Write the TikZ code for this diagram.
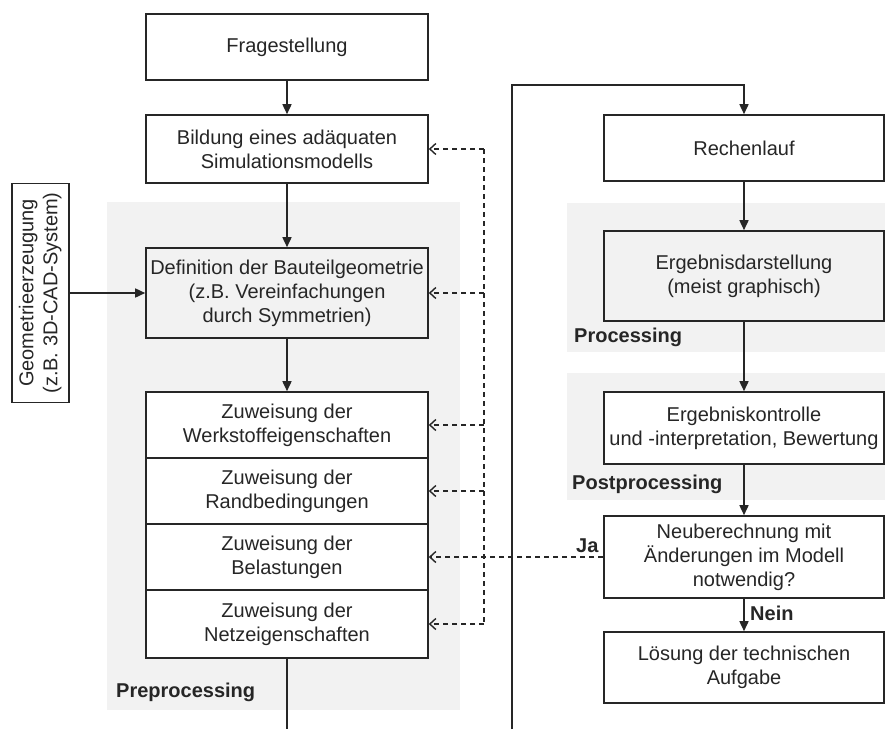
\documentclass[tikz,border=0pt]{standalone}
\usepackage{fontspec}
\usepackage{graphicx}
\setmainfont{Liberation Sans}
\usetikzlibrary{arrows.meta}
\definecolor{ink}{HTML}{262626}
\definecolor{zone}{HTML}{F2F2F2}
\newcommand\diafont{\fontsize{20}{24}\selectfont}
\tikzset{
  box/.style={draw=ink, line width=1.6pt, fill=white, align=center, inner sep=2pt, font=\diafont, text=ink},
  greybox/.style={box, fill=zone},
  lab/.style={font=\diafont\bfseries, inner sep=0pt, text=ink},
  plain/.style={draw=ink, line width=1.6pt},
  arr/.style={plain, -{Triangle[length=10pt,width=9pt]}},
  dline/.style={draw=ink, line width=1.5pt, dash pattern=on 5pt off 4pt},
  fb/.style={dline, -{Straight Barb[length=6pt,width=11pt,line width=1.4pt]}},
}
\begin{document}
\begin{tikzpicture}[x=1pt,y=-1pt]
\useasboundingbox (0,0) rectangle (885,729);

% shaded phase zones
\fill[zone] (107,202) rectangle (460,710);
\fill[zone] (567,203) rectangle (885,352);
\fill[zone] (567,373) rectangle (885,500);

% left column
\node[box, minimum width=282pt, minimum height=66pt] (frage) at (287,47) {Fragestellung};
\node[box, minimum width=282pt, minimum height=68pt] (bild) at (287,149) {Bildung eines adäquaten\\Simulationsmodells};
\node[greybox, minimum width=282pt, minimum height=90pt] (def) at (287,293) {Definition der Bauteilgeometrie\\(z.B. Vereinfachungen\\durch Symmetrien)};
\node[box, minimum width=282pt, minimum height=66pt] (werk) at (287,425) {Zuweisung der\\Werkstoffeigenschaften};
\node[box, minimum width=282pt, minimum height=66pt] (rand) at (287,491) {Zuweisung der\\Randbedingungen};
\node[box, minimum width=282pt, minimum height=66pt] (bel) at (287,557) {Zuweisung der\\Belastungen};
\node[box, minimum width=282pt, minimum height=68pt] (netz) at (287,624) {Zuweisung der\\Netzeigenschaften};

% CAD input
\node[box, minimum width=57pt, minimum height=219pt, inner sep=0pt] (geo) at (40.5,293)
  {\rotatebox{90}{\begin{tabular}{@{}c@{}}Geometrieerzeugung\\(z.B. 3D-CAD-System)\end{tabular}}};

% right column
\node[box, minimum width=280pt, minimum height=66pt] (rech) at (744,148) {Rechenlauf};
\node[greybox, minimum width=280pt, minimum height=90pt] (erg) at (744,276) {Ergebnisdarstellung\\(meist graphisch)};
\node[box, minimum width=280pt, minimum height=72pt] (kontr) at (744,428) {Ergebniskontrolle\\und -interpretation, Bewertung};
\node[box, minimum width=280pt, minimum height=82pt] (neu) at (744,557) {Neuberechnung mit\\Änderungen im Modell\\notwendig?};
\node[box, minimum width=280pt, minimum height=71pt] (loes) at (744,667.5) {Lösung der technischen\\Aufgabe};

% phase labels
\node[lab, anchor=west] (prelab) at (116,692) {Preprocessing};
\node[lab, anchor=west] (proclab) at (574,337) {Processing};
\node[lab, anchor=west] (postlab) at (572,484) {Postprocessing};
\node[lab, anchor=west] (ja) at (576,546) {Ja};
\node[lab, anchor=west] (nein) at (750,613) {Nein};

% main flow
\draw[arr] (frage) -- (bild);
\draw[arr] (bild) -- (def);
\draw[arr] (def) -- (werk);
\draw[arr] (geo.east) -- (def.west);
\coordinate (tail) at (287,729);
\draw[plain] (netz.south) -- (tail);

\coordinate (loopB) at (512,729);
\coordinate (loopT) at (512,85);
\draw[arr] (loopB) -- (loopT) -| (rech.north);
\draw[arr] (rech) -- (erg);
\draw[arr] (erg) -- (kontr);
\draw[arr] (kontr) -- (neu);
\draw[arr] (neu) -- (loes);

% feedback bus
\coordinate (busT) at (484,149);
\coordinate (busB) at (484,624);
\draw[dline] (busT) -- (busB);
\draw[fb] (busT) -- (bild.east);
\draw[fb] (busT |- def.east) -- (def.east);
\draw[fb] (busT |- werk.east) -- (werk.east);
\draw[fb] (busT |- rand.east) -- (rand.east);
\draw[fb] (busB) -- (netz.east);
\draw[fb] (neu.west) -- (bel.east);
\end{tikzpicture}
\end{document}
